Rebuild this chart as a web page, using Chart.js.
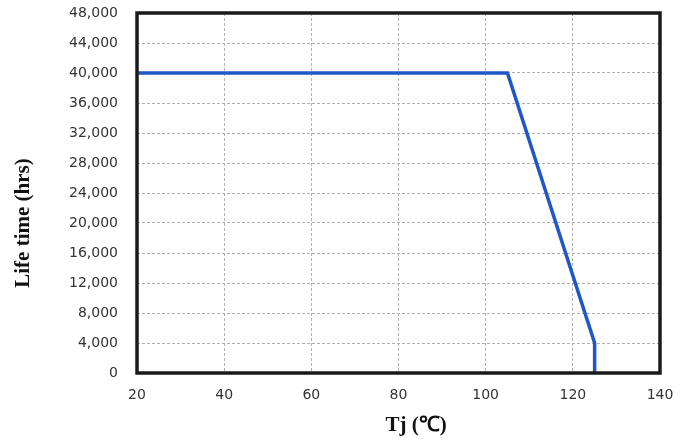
<!DOCTYPE html>
<html>
<head>
<meta charset="utf-8">
<script src="https://cdn.jsdelivr.net/npm/chart.js@4.4.0/dist/chart.umd.min.js"></script>
<style>
    html, body { margin: 0; padding: 0; background: #ffffff; }
    #wrap { width: 691px; height: 441px; }
</style>
</head>
<body>
<div id="wrap"><canvas id="lifeChart" width="691" height="441"></canvas></div>
<script>
// 寿命曲線データ（Tj → 寿命時間）
const tjValues = [20, 105, 125, 125];
const lifeHours = [40000, 40000, 4000, 0];

const xTicks = [20, 40, 60, 80, 100, 120, 140];
const yTicks = [0, 4000, 8000, 12000, 16000, 20000, 24000, 28000, 32000, 36000, 40000, 44000, 48000];

const xTitle = 'Tj (℃)';
const yTitle = 'Life time (hrs)';

// 枠線と軸タイトルを描くプラグイン
const frameAndTitles = {
    id: 'frameAndTitles',
    afterDatasetsDraw(chart) {
        const { ctx, chartArea } = chart;
        ctx.save();
        ctx.strokeStyle = '#1a1a1a';
        ctx.lineWidth = 3.5;
        ctx.strokeRect(chartArea.left, chartArea.top,
            chartArea.right - chartArea.left, chartArea.bottom - chartArea.top);

        ctx.fillStyle = '#111111';
        ctx.font = 'bold 21px "Liberation Serif", "Times New Roman", serif';
        ctx.textAlign = 'center';
        ctx.textBaseline = 'middle';
        ctx.fillText(xTitle, 416, 426);

        ctx.translate(24, 223);
        ctx.rotate(-Math.PI / 2);
        ctx.fillText(yTitle, 0, 0);
        ctx.restore();
    }
};

const ctx = document.getElementById('lifeChart').getContext('2d');
new Chart(ctx, {
    type: 'line',
    data: {
        datasets: [{
            data: tjValues.map((x, i) => ({ x: x, y: lifeHours[i] })),
            borderColor: '#1f57c8',
            borderWidth: 3.5,
            pointRadius: 0,
            tension: 0,
            fill: false
        }]
    },
    options: {
        responsive: false,
        animation: false,
        layout: { padding: { left: 0, right: 31, top: 13, bottom: 0 } },
        plugins: {
            legend: { display: false },
            tooltip: { enabled: false }
        },
        scales: {
            x: {
                type: 'linear',
                min: 20,
                max: 140,
                afterFit(scale) {
                    scale.height = 68;
                    scale.paddingLeft = 0;
                    scale.paddingRight = 0;
                },
                afterBuildTicks(scale) { scale.ticks = xTicks.map(v => ({ value: v })); },
                grid: {
                    color: '#b0b0b0',
                    drawTicks: false
                },
                border: { display: false, dash: [3, 2] },
                ticks: {
                    padding: 14,
                    color: '#333333',
                    font: { family: '"DejaVu Sans", sans-serif', size: 14 }
                }
            },
            y: {
                type: 'linear',
                min: 0,
                max: 48000,
                afterFit(scale) {
                    scale.width = 137;
                    scale.paddingTop = 0;
                    scale.paddingBottom = 0;
                },
                afterBuildTicks(scale) { scale.ticks = yTicks.map(v => ({ value: v })); },
                grid: {
                    color: '#b0b0b0',
                    drawTicks: false
                },
                border: { display: false, dash: [3, 2] },
                ticks: {
                    padding: 19,
                    color: '#333333',
                    font: { family: '"DejaVu Sans", sans-serif', size: 14 },
                    callback: v => v.toLocaleString('en-US')
                }
            }
        }
    },
    plugins: [frameAndTitles]
});
</script>
</body>
</html>
